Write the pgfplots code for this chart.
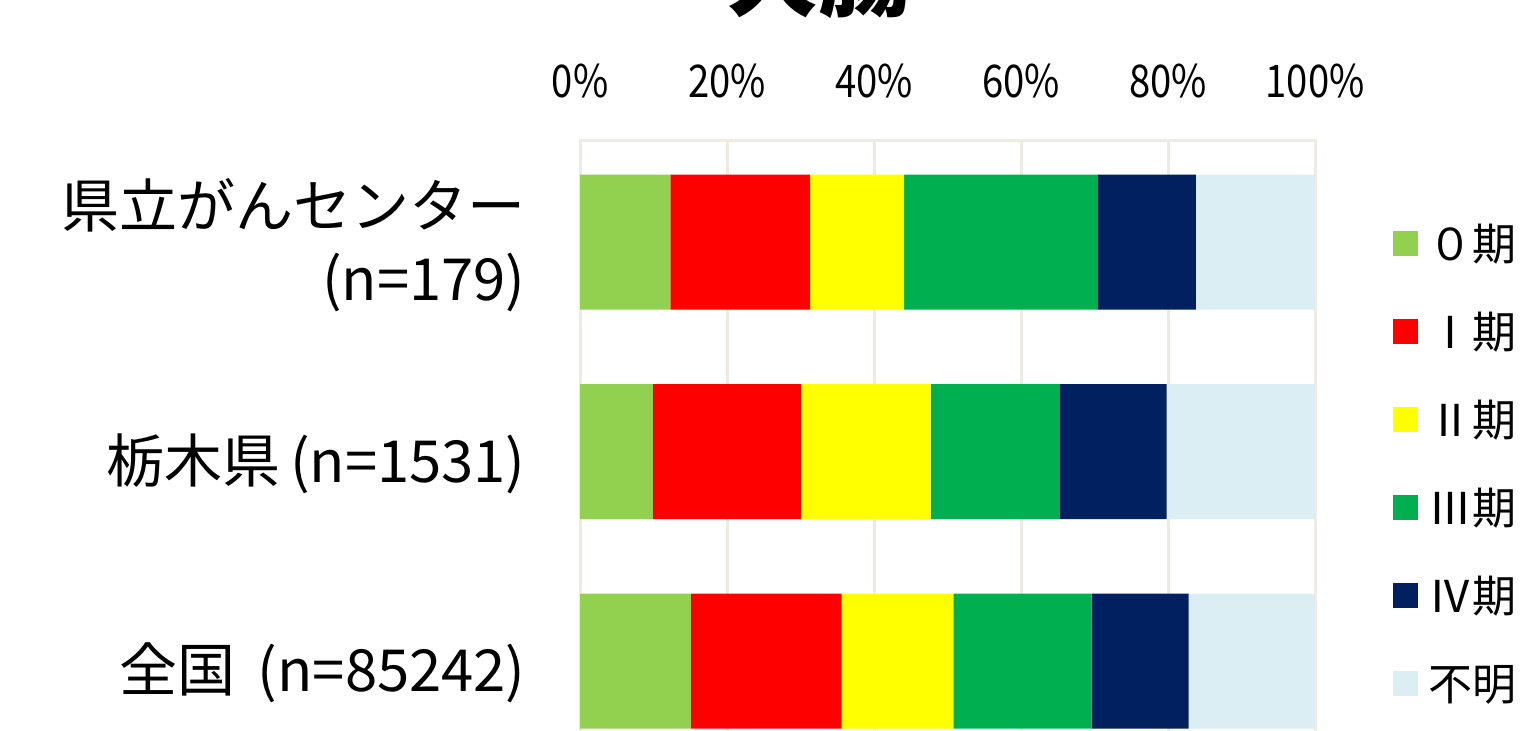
\documentclass[border=0pt]{standalone}
\usepackage{fontspec}
\setmainfont{Noto Sans CJK JP}
\usepackage{graphicx}
\usepackage{pgfplots}
\pgfplotsset{compat=1.18}

\definecolor{st0}{HTML}{92D050}
\definecolor{st1}{HTML}{FF0000}
\definecolor{st2}{HTML}{FFFF00}
\definecolor{st3}{HTML}{00B050}
\definecolor{st4}{HTML}{002060}
\definecolor{st5}{HTML}{DAEEF3}
\definecolor{gridc}{HTML}{EEECE1}

\newcommand\catfont{\fontsize{29}{36.5}\selectfont}

\pgfplotsset{
  sq/.style={fill=#1, draw=none,
    legend image code/.code={\fill[#1] (0pt,-6.25pt) rectangle (12.5pt,6.25pt);}},
}

\begin{document}
\begin{tikzpicture}
\useasboundingbox (0pt,0pt) rectangle (767pt,-365pt);
\clip (0pt,0pt) rectangle (767pt,-365pt);
% chart title (top of the frame)
\node[font=\bfseries\fontsize{46}{46}\selectfont, anchor=base, inner sep=0pt]
  at (409pt,-4.5pt) {大腸};
\begin{axis}[
  at={(290pt,-70pt)}, anchor=north west,
  scale only axis, width=367.5pt, height=311.5pt,
  xbar stacked, bar width=67.5pt,
  xmin=0, xmax=100, ymin=-0.487, ymax=2.487, y dir=reverse,
  clip=false,
  xtick={0,20,...,100}, xticklabel pos=upper,
  xticklabel={\scalebox{0.85}[1]{\pgfmathprintnumber[assume math mode=true]{\tick}\%}},
  xticklabel style={anchor=base, inner sep=0pt, yshift=21.5pt,
    font=\fontsize{22.5}{22.5}\selectfont},
  ytick=\empty,
  major tick length=0pt,
  xmajorgrids,
  grid style={gridc, line width=1.5pt},
  axis line style={gridc, line width=1.5pt},
  legend cell align=left,
  legend style={
    at={(axis description cs:1.106,0.870)}, anchor=north west,
    draw=none, fill=none, inner sep=0pt,
    row sep=22pt, column sep=5pt,
    font=\fontsize{22}{22}\selectfont,
    nodes={inner sep=0pt, text height=19.5pt, text depth=2.5pt},
  },
]
\addplot[sq=st0] coordinates {(12.3,0) (9.9,1) (15.1,2)};
\addplot[sq=st1] coordinates {(19.0,0) (20.2,1) (20.5,2)};
\addplot[sq=st2] coordinates {(12.8,0) (17.6,1) (15.2,2)};
\addplot[sq=st3] coordinates {(26.3,0) (17.6,1) (18.8,2)};
\addplot[sq=st4] coordinates {(13.4,0) (14.5,1) (13.2,2)};
\addplot[sq=st5] coordinates {(16.2,0) (20.2,1) (17.2,2)};
\legend{０期,Ⅰ期,Ⅱ期,Ⅲ期,Ⅳ期,不明}

% category names
\node[anchor=east, align=right, inner sep=0pt, font=\catfont, xshift=-27pt, yshift=-1.5pt]
  at (axis cs:0,0) {県立がんセンター\\(n=179)};
\node[anchor=east, inner sep=0pt, font=\catfont, xshift=-27pt, yshift=-6pt]
  at (axis cs:0,1) {栃木県\,(n=1531)};
\node[anchor=east, inner sep=0pt, font=\catfont, xshift=-27pt, yshift=-6pt]
  at (axis cs:0,2) {全国 \,(n=85242)};
\end{axis}
\end{tikzpicture}
\end{document}
